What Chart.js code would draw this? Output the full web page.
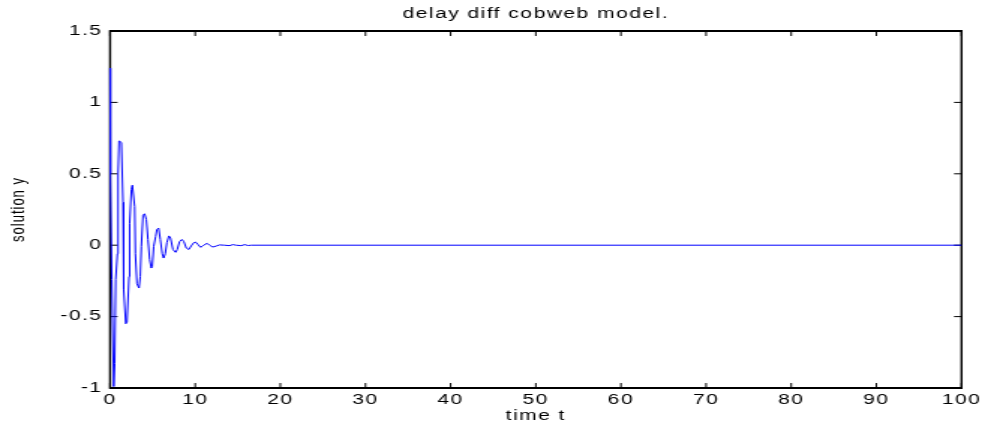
<!DOCTYPE html>
<html>
<head>
  <meta charset="UTF-8">
  <title>delay diff cobweb model.</title>
  <style>
    body { margin: 0; background: #fff; }
  </style>
  <script src="https://cdn.jsdelivr.net/npm/chart.js"></script>
</head>
<body>
  <!-- the figure is drawn narrow and stretched sideways, like the original export -->
  <canvas id="plot" width="657" height="428" style="display:block;width:985px;height:428px"></canvas>

  <script>
  // values
  const timeT = [0, 0.04, 0.2, 0.43, 0.55, 0.66, 0.86, 0.94, 1.05, 1.33, 1.52, 1.6, 1.84, 1.99, 2.23, 2.3, 2.5, 2.62,
    2.89, 2.97, 3.16, 3.4, 3.55, 3.67, 3.87, 4.06, 4.26, 4.45, 4.65, 4.84, 4.96, 5.12, 5.35, 5.5, 5.7, 5.9, 6.13, 6.29,
    6.48, 6.68, 6.91, 7.1, 7.38, 7.7, 7.89, 8.16, 8.44, 8.67, 8.95, 9.26, 9.53, 9.84, 10.04, 10.31, 10.63, 10.9, 11.21,
    11.4, 11.68, 12.07, 12.46, 12.85, 13.44, 14.02, 14.41, 14.8, 15.4, 15.8, 16.2, 16.6, 100];
  const solutionY = [1.24, 0.5, -0.24, -0.99, -0.83, -0.24, -0.06, 0.5, 0.73, 0.72, 0.3, -0.31, -0.55, -0.54, -0.22, 0.15,
    0.39, 0.42, 0.27, -0.06, -0.27, -0.3, -0.22, -0.01, 0.21, 0.22, 0.18, 0.04, -0.1, -0.16, -0.15, -0.01, 0.06, 0.11,
    0.12, 0.04, -0.06, -0.09, -0.06, 0.02, 0.065, 0.05, -0.03, -0.05, -0.03, 0.025, 0.04, 0.025, -0.02, -0.03, -0.005,
    0.018, 0.022, 0.006, -0.015, -0.005, 0.008, 0.013, 0, -0.013, -0.006, 0.002, 0, -0.003, 0.004, 0, -0.003, 0.004,
    -0.002, 0, 0];
  const xTicks = [0, 10, 20, 30, 40, 50, 60, 70, 80, 90, 100];
  const yTicks = [-1, -0.5, 0, 0.5, 1, 1.5];

  const FONT = "'Liberation Sans', Arial, sans-serif";

  // wide letter spacing of the old figure text
  const spacing = {
    id: "spacing",
    beforeDraw(chart) { chart.ctx.letterSpacing = "1px"; }
  };

  // matlab style box with inward ticks on all four sides
  const box = {
    id: "box",
    beforeDatasetsDraw(chart) {
      const { ctx, chartArea: a, scales } = chart;
      const len = 5;
      ctx.save();
      ctx.strokeStyle = "#000";
      ctx.lineWidth = 1;
      ctx.beginPath();
      scales.x.ticks.forEach(t => {
        const px = scales.x.getPixelForValue(t.value);
        ctx.moveTo(px, a.bottom); ctx.lineTo(px, a.bottom - len);
        ctx.moveTo(px, a.top); ctx.lineTo(px, a.top + len);
      });
      scales.y.ticks.forEach(t => {
        const py = scales.y.getPixelForValue(t.value);
        ctx.moveTo(a.left, py); ctx.lineTo(a.left + len, py);
        ctx.moveTo(a.right, py); ctx.lineTo(a.right - len, py);
      });
      ctx.stroke();
      ctx.lineWidth = 2;
      ctx.beginPath();
      ctx.moveTo(a.left, a.top); ctx.lineTo(a.right, a.top);
      ctx.moveTo(a.left, a.bottom); ctx.lineTo(a.right, a.bottom);
      ctx.stroke();
      ctx.lineWidth = 1.4;
      ctx.beginPath();
      ctx.moveTo(a.left, a.top - 1); ctx.lineTo(a.left, a.bottom + 1);
      ctx.moveTo(a.right, a.top - 1); ctx.lineTo(a.right, a.bottom + 1);
      ctx.stroke();
      ctx.restore();
    }
  };

  const chart = new Chart(document.getElementById("plot").getContext("2d"), {
    type: "line",
    data: {
      datasets: [{
        label: "solution y",
        data: timeT.map((t, i) => ({ x: t, y: solutionY[i] })),
        borderColor: "#0000ff",
        borderWidth: 1,
        pointRadius: 0,
        tension: 0,
        fill: false,
        clip: false
      }]
    },
    options: {
      responsive: false,
      animation: false,
      devicePixelRatio: 1,
      layout: { padding: { left: 0, right: 14.7, top: 0, bottom: 0 } },
      plugins: {
        legend: { display: false },
        tooltip: { enabled: false },
        title: {
          display: true,
          fullSize: false,
          text: "delay diff cobweb model.",
          color: "#000",
          font: { family: FONT, size: 14, weight: "normal" },
          padding: { top: 6, bottom: 8.2 }
        }
      },
      scales: {
        x: {
          type: "linear",
          min: 0,
          max: 100,
          afterBuildTicks: s => { s.ticks = xTicks.map(v => ({ value: v })); },
          afterFit: s => { s.height = 40; },
          grid: { display: false, drawTicks: false },
          border: { display: false },
          ticks: { color: "#000", padding: 4, maxRotation: 0, font: { family: FONT, size: 14 }, callback: v => String(v) },
          title: {
            display: true,
            text: "time t",
            color: "#000",
            font: { family: FONT, size: 14 },
            padding: { top: 0, bottom: 3 }
          }
        },
        y: {
          min: -1,
          max: 1.5,
          afterBuildTicks: s => { s.ticks = yTicks.map(v => ({ value: v })); },
          afterFit: s => { s.width = 73.4; },
          grid: { display: false, drawTicks: false },
          border: { display: false },
          ticks: { color: "#000", padding: 5, font: { family: FONT, size: 14 }, callback: v => String(v) },
          title: {
            display: true,
            text: "solution y",
            color: "#000",
            font: { family: FONT, size: 13 },
            padding: { top: 5, bottom: 0 }
          }
        }
      }
    },
    plugins: [spacing, box]
  });
  </script>
</body>
</html>
